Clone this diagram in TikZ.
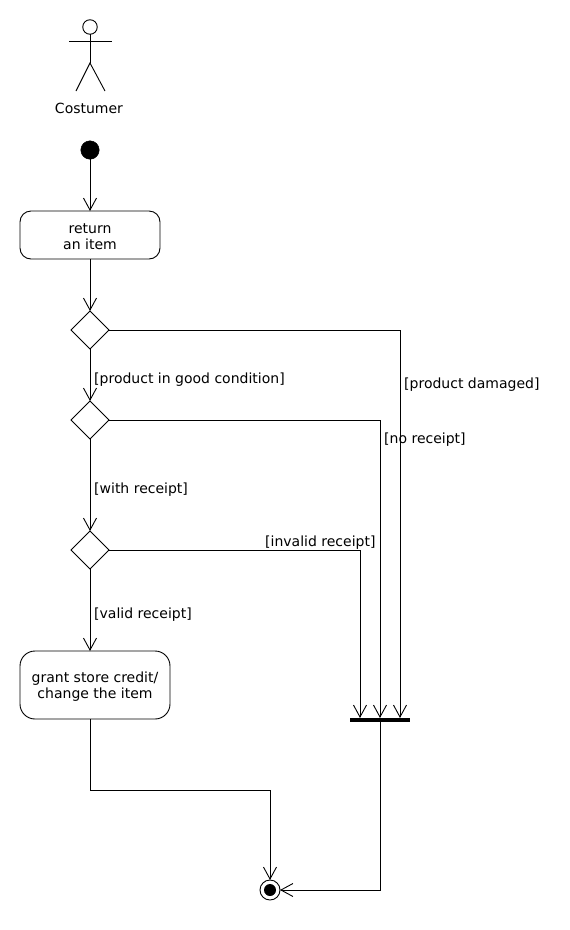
\documentclass[tikz,border=0pt]{standalone}
\usepackage{fontspec}
\setmainfont{DejaVu Sans}
\usetikzlibrary{arrows.meta,shapes.geometric,positioning}

\tikzset{
  flow/.style={-{Straight Barb[length=12pt,width=13pt]},line width=.9pt},
  plain/.style={line width=.9pt},
  action/.style={draw,rounded corners=11pt,line width=.9pt,align=center,inner sep=0pt,outer sep=0pt},
  choice/.style={draw,diamond,minimum width=38pt,minimum height=38pt,inner sep=0pt,outer sep=0pt,line width=.9pt},
  guard/.style={inner sep=0pt,anchor=west}
}

\begin{document}
\begin{tikzpicture}[x=1pt,y=-1pt,font=\fontsize{14}{15.5}\selectfont]
          \useasboundingbox (0,0) rectangle (570,930);
          % actor
          \node [draw,circle,minimum size=14.5pt,inner sep=0pt,outer sep=0pt,line width=.9pt] (head) at (90,27) {};
          \coordinate (armL) at (69,41);
          \coordinate (armR) at (112,41);
          \coordinate (hip) at (90,63);
          \coordinate (legL) at (76,91);
          \coordinate (legR) at (105,91);
          \draw [plain] (head) -- (hip);
          \draw [plain] (armL) -- (armR);
          \draw [plain] (legL) -- (hip) -- (legR);
          \node (costumer) at (89,108.5) {Costumer};
          % activity nodes
          \node [draw,fill=black,circle,minimum size=18.5pt,inner sep=0pt,outer sep=0pt] (start) at (90,150) {};
          \node [action,minimum width=140pt,minimum height=48pt] (item) at (90,235) {\rule{0pt}{13pt}return\\an item};
          \node [choice] (cond) at (90,330) {};
          \node [choice] (receipt) at (90,420) {};
          \node [choice] (valid) at (90,550) {};
          \node [action,rounded corners=15pt,minimum width=150pt,minimum height=68pt] (credit) at (95,685) {\rule{0pt}{14pt}grant store credit/\\change the item};
          \node [fill=black,minimum width=60pt,minimum height=4pt,inner sep=0pt,outer sep=0pt] (bar) at (380,720) {};
          \node [draw,circle,minimum size=20pt,inner sep=0pt,outer sep=0pt,line width=.9pt] (stop) at (270,890) {};
          \node [fill=black,circle,minimum size=12pt,inner sep=0pt] (stopdot) at (270,890) {};
          % free ends on the bar
          \coordinate (barA) at (360,718);
          \coordinate (barB) at (380,718);
          \coordinate (barC) at (400,718);
          \coordinate (turn) at (90,790);
          % flows
          \draw [flow] (start) -- (item);
          \draw [flow] (item) -- (cond);
          \draw [flow] (cond) -- (receipt);
          \draw [flow] (receipt) -- (valid);
          \draw [flow] (valid.south) -- (valid.south |- credit.north);
          \draw [flow] (cond.east) -| (barC);
          \draw [flow] (receipt.east) -| (barB);
          \draw [flow] (valid.east) -| (barA);
          \draw [flow] (credit.south -| turn) -- (turn) -| (stop.north);
          \draw [flow] (bar.south) |- (stop.east);
          % guards
          \node [guard] (g1) at (94,380) {[product in good condition]};
          \node [guard] (g2) at (404,385) {[product damaged]};
          \node [guard] (g3) at (384,440) {[no receipt]};
          \node [guard] (g4) at (94,490) {[with receipt]};
          \node [guard] (g5) at (265,543) {[invalid receipt]};
          \node [guard] (g6) at (94,615) {[valid receipt]};
     \end{tikzpicture}
\end{document}
